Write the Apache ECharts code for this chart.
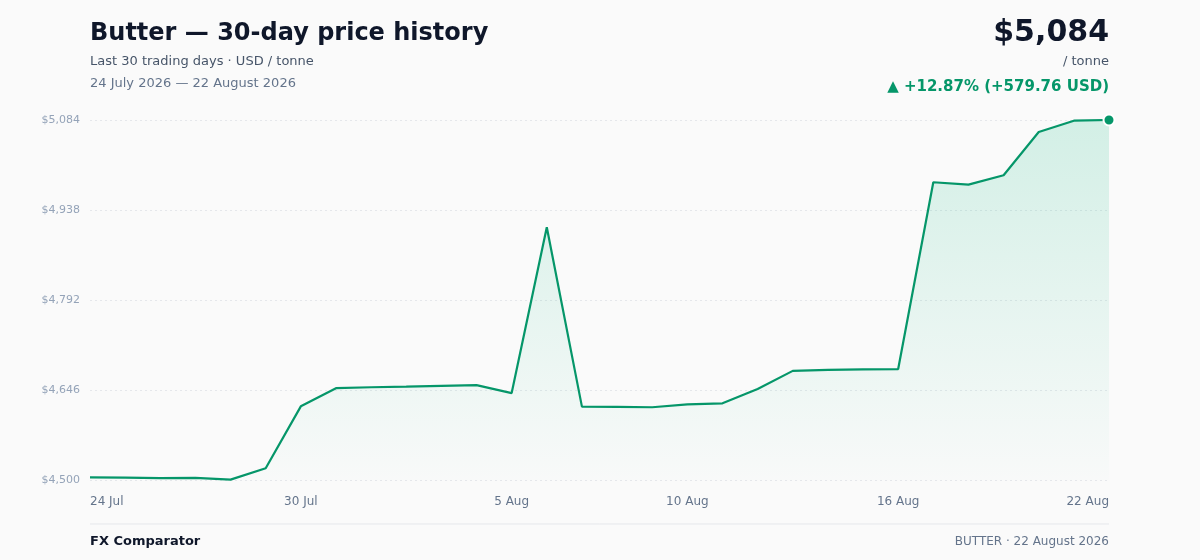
<!DOCTYPE html>
<html>
<head>
<meta charset="utf-8">
<script src="https://cdn.jsdelivr.net/npm/echarts@6/dist/echarts.min.js"></script>
<style>
  html, body { margin: 0; padding: 0; background: #fafafa; }
  #chart { width: 1200px; height: 560px; }
</style>
</head>
<body>
<div id="chart"></div>
<script>
// 30 calendar days, 24 Jul – 22 Aug 2026
var days = [
  '24 Jul','25 Jul','26 Jul','27 Jul','28 Jul','29 Jul','30 Jul','31 Jul',
  '1 Aug','2 Aug','3 Aug','4 Aug','5 Aug','6 Aug','7 Aug','8 Aug','9 Aug',
  '10 Aug','11 Aug','12 Aug','13 Aug','14 Aug','15 Aug','16 Aug','17 Aug',
  '18 Aug','19 Aug','20 Aug','21 Aug','22 Aug'
];
var prices = [
  4504.24, 4503.8, 4503.2, 4503.5, 4500.6, 4519.0, 4619.5, 4649.0,
  4650.5, 4651.5, 4652.8, 4654.0, 4641.0, 4910.0, 4619.0, 4618.6, 4618.0,
  4622.6, 4624.4, 4647.6, 4677.0, 4678.6, 4679.4, 4680.0, 4983.0,
  4979.2, 4994.3, 5064.5, 5082.9, 5084.0
];
var shownLabels = [0, 6, 12, 17, 23, 29];
var yTicks = [4500, 4646, 4792, 4938, 5084];

var green = '#059669';
var font = 'DejaVu Sans';
var last = prices.length - 1;

var chart = echarts.init(document.getElementById('chart'));

function money(v) {
  return '$' + Math.round(v).toLocaleString('en-US');
}

var option = {
  backgroundColor: '#fafafa',
  animation: false,
  textStyle: { fontFamily: font },
  grid: { left: 90, right: 91, top: 120, bottom: 80 },
  graphic: [
    { type: 'text', x: 90, y: 34, style: { text: 'Butter — 30-day price history', font: 'bold 24px "DejaVu Sans"', fill: '#0f172a', verticalAlign: 'middle' } },
    { type: 'text', x: 90, y: 62, style: { text: 'Last 30 trading days · USD / tonne', font: '13px "DejaVu Sans"', fill: '#475569', verticalAlign: 'middle' } },
    { type: 'text', x: 90, y: 84, style: { text: '24 July 2026 — 22 August 2026', font: '13px "DejaVu Sans"', fill: '#64748b', verticalAlign: 'middle' } },
    { type: 'text', x: 1109, y: 33, style: { text: money(prices[last]), font: 'bold 30px "DejaVu Sans"', fill: '#0f172a', align: 'right', verticalAlign: 'middle' } },
    { type: 'text', x: 1109, y: 62, style: { text: '/ tonne', font: '13px "DejaVu Sans"', fill: '#475569', align: 'right', verticalAlign: 'middle' } },
    { type: 'text', x: 1109, y: 87, style: { text: '▲ +12.87% (+579.76 USD)', font: 'bold 15px "DejaVu Sans"', fill: green, align: 'right', verticalAlign: 'middle' } },
    { type: 'line', shape: { x1: 90, y1: 524, x2: 1109, y2: 524 }, style: { stroke: '#e5e7eb', lineWidth: 1 } },
    { type: 'text', x: 90, y: 542, style: { text: 'FX Comparator', font: 'bold 13px "DejaVu Sans"', fill: '#0f172a', verticalAlign: 'middle' } },
    { type: 'text', x: 1109, y: 542, style: { text: 'BUTTER · 22 August 2026', font: '12px "DejaVu Sans"', fill: '#64748b', align: 'right', verticalAlign: 'middle' } }
  ],
  xAxis: {
    type: 'category',
    data: days,
    boundaryGap: false,
    axisLine: { show: false },
    axisTick: { show: false },
    splitLine: { show: false },
    axisLabel: {
      color: '#64748b',
      fontSize: 12,
      margin: 16,
      interval: function (i) { return shownLabels.indexOf(i) >= 0; },
      alignMinLabel: 'left',
      alignMaxLabel: 'right'
    }
  },
  yAxis: {
    type: 'value',
    min: yTicks[0],
    max: yTicks[yTicks.length - 1],
    interval: yTicks[1] - yTicks[0],
    axisLine: { show: false },
    axisTick: { show: false },
    splitLine: { lineStyle: { color: '#e5e7eb', type: [2, 3] } },
    axisLabel: {
      color: '#94a3b8',
      fontSize: 11,
      margin: 10,
      formatter: function (v) { return money(v); }
    }
  },
  series: [{
    type: 'line',
    data: prices,
    showSymbol: true,
    symbol: 'circle',
    symbolSize: function (v, p) { return p.dataIndex === last ? 11 : 0; },
    itemStyle: { color: green, borderColor: '#ffffff', borderWidth: 2 },
    lineStyle: { color: green, width: 2.2 },
    areaStyle: {
      color: new echarts.graphic.LinearGradient(0, 0, 0, 1, [
        { offset: 0, color: 'rgba(16,185,129,0.24)' },
        { offset: 1, color: 'rgba(16,185,129,0.01)' }
      ])
    },
    z: 3
  }]
};

chart.setOption(option);
</script>
</body>
</html>
